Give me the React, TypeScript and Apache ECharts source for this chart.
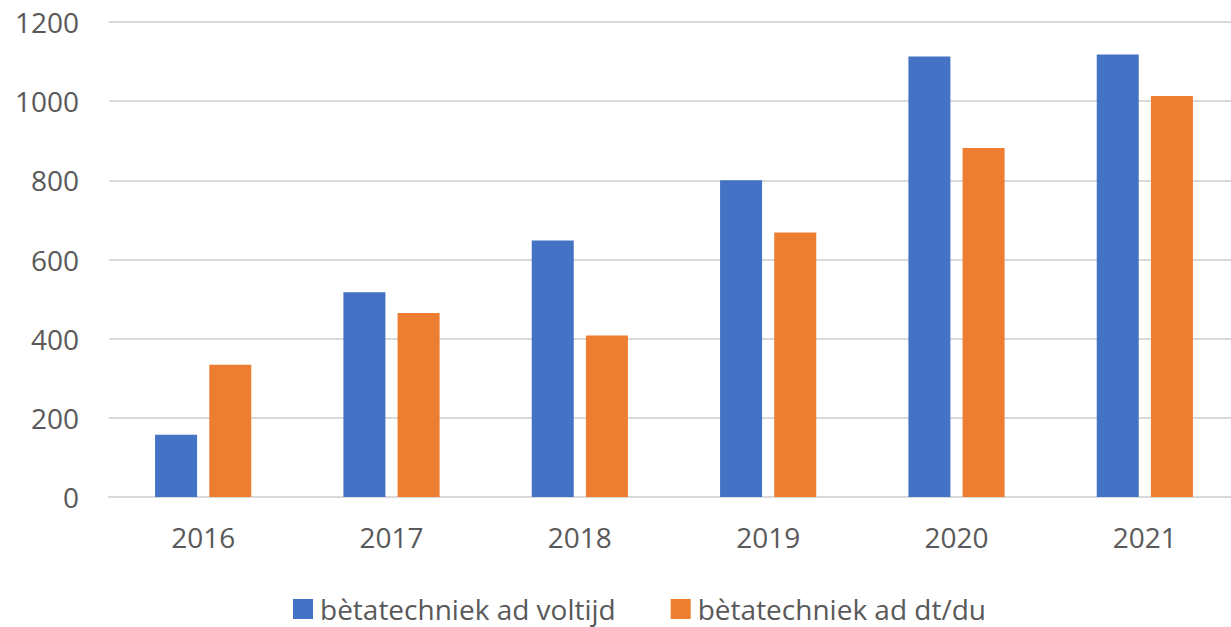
import React, { useEffect, useRef } from "react";
import * as echarts from "echarts";

const years = ["2016", "2017", "2018", "2019", "2020", "2021"];
const voltijd = [157, 517, 648, 800, 1113, 1118];
const dtdu = [334, 465, 408, 668, 882, 1013];
const seriesNames = ["bètatechniek ad voltijd", "bètatechniek ad dt/du"];

const FONT = "'Open Sans', sans-serif";
const TEXT = "#595959";

export default function App() {
  const ref = useRef<HTMLDivElement>(null);
  useEffect(() => {
    const chart = echarts.init(ref.current!, null, { renderer: "svg" });
    chart.setOption({
      animation: false,
      textStyle: { fontFamily: FONT },
      grid: { left: 109, top: 22, width: 1130, height: 475, outerBoundsMode: "none" },
      legend: {
        data: seriesNames,
        left: 293,
        top: 595,
        padding: 0,
        itemWidth: 20,
        itemHeight: 20,
        itemGap: 55,
        icon: "rect",
        textStyle: {
          color: TEXT,
          fontSize: 28,
          lineHeight: 28,
          fontFamily: FONT,
          padding: [0, 0, 0, 2],
        },
      },
      xAxis: {
        type: "category",
        data: years,
        axisLine: { lineStyle: { color: "#D9D9D9", width: 2 } },
        axisTick: { show: false },
        axisLabel: { color: TEXT, fontSize: 28, margin: 26, fontFamily: FONT },
      },
      yAxis: {
        type: "value",
        min: 0,
        max: 1200,
        interval: 200,
        axisLine: { show: false },
        axisTick: { show: false },
        splitLine: { lineStyle: { color: "#D9D9D9", width: 2 } },
        axisLabel: {
          color: TEXT,
          fontSize: 28,
          margin: 30,
          fontFamily: FONT,
          formatter: (v: number) => String(v),
        },
      },
      series: [
        {
          name: seriesNames[0],
          type: "bar",
          data: voltijd,
          barWidth: 42,
          barGap: "29%",
          itemStyle: { color: "#4472C4" },
        },
        {
          name: seriesNames[1],
          type: "bar",
          data: dtdu,
          barWidth: 42,
          itemStyle: { color: "#ED7D31" },
        },
      ],
    });
    return () => chart.dispose();
  }, []);
  return (
    <div
      ref={ref}
      style={{ position: "absolute", left: 0, top: 0, width: 1231, height: 627 }}
    />
  );
}
